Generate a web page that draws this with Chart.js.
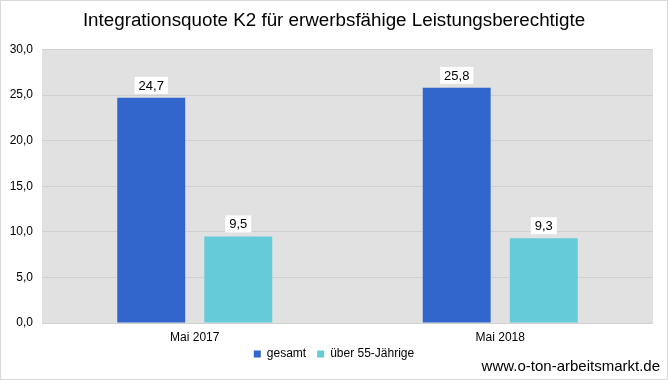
<!DOCTYPE html>
<html>
<head>
<meta charset="utf-8">
<script src="https://cdn.jsdelivr.net/npm/chart.js@4"></script>
<style>
  html, body { margin: 0; padding: 0; background: #fff; }
  #wrap { width: 668px; height: 380px; position: relative; }
</style>
</head>
<body>
<div id="wrap"><canvas id="chart" width="668" height="380"></canvas></div>
<script>
const categories = ['Mai 2017', 'Mai 2018'];
const seriesNames = ['gesamt', 'über 55-Jährige'];
const gesamt = [24.7, 25.8];
const ueber55 = [9.5, 9.3];
const yTicks = [0, 5, 10, 15, 20, 25, 30];

const fmt = v => v.toFixed(1).replace('.', ',');
const font = size => ({ family: '"Liberation Sans", Arial, sans-serif', size: size, weight: 'normal' });

// Hintergrund der Zeichenfläche + Rahmen + Quelle
const decor = {
  id: 'decor',
  beforeDraw(chart) {
    const { ctx, chartArea: a } = chart;
    ctx.save();
    ctx.fillStyle = '#fff';
    ctx.fillRect(0, 0, chart.width, chart.height);
    ctx.fillStyle = '#e1e1e1';
    ctx.fillRect(a.left, a.top, a.right - a.left, a.bottom - a.top);
    ctx.restore();
  },
  afterDraw(chart) {
    const { ctx } = chart;
    ctx.save();
    ctx.strokeStyle = '#d9d9d9';
    ctx.lineWidth = 1;
    ctx.strokeRect(0.5, 0.5, chart.width - 1, chart.height - 1);
    ctx.fillStyle = '#000';
    ctx.font = '15px "Liberation Sans", Arial, sans-serif';
    ctx.textAlign = 'right';
    ctx.textBaseline = 'middle';
    ctx.fillText('www.o-ton-arbeitsmarkt.de', 660, 367);
    ctx.restore();
  }
};

// Werte über den Balken in weißen Kästchen
const valueLabels = {
  id: 'valueLabels',
  afterDatasetsDraw(chart) {
    const { ctx } = chart;
    ctx.save();
    ctx.font = '13px "Liberation Sans", Arial, sans-serif';
    ctx.textAlign = 'center';
    ctx.textBaseline = 'middle';
    chart.data.datasets.forEach((ds, i) => {
      chart.getDatasetMeta(i).data.forEach((bar, j) => {
        const txt = fmt(ds.data[j]);
        const w = ctx.measureText(txt).width + 8;
        const h = 17;
        const y = bar.y - 4 - h;
        ctx.fillStyle = '#fff';
        ctx.fillRect(bar.x - w / 2, y, w, h);
        ctx.fillStyle = '#000';
        ctx.fillText(txt, bar.x, y + h / 2 + 1);
      });
    });
    ctx.restore();
  }
};

// Achsenbeschriftung nicht auf die Achsenbox zuschneiden
const noLabelClip = scale => { scale._computeLabelArea = () => undefined; };

new Chart(document.getElementById('chart'), {
  type: 'bar',
  data: {
    labels: categories,
    datasets: [
      { label: seriesNames[0], data: gesamt, backgroundColor: '#3366cc' },
      { label: seriesNames[1], data: ueber55, backgroundColor: '#66cbd8' }
    ]
  },
  options: {
    responsive: false,
    animation: false,
    devicePixelRatio: 1,
    categoryPercentage: 0.57,
    barPercentage: 0.78,
    layout: { padding: { left: 15, right: 15, top: 0, bottom: 10 } },
    plugins: {
      title: {
        display: true,
        text: 'Integrationsquote K2 für erwerbsfähige Leistungsberechtigte',
        color: '#000',
        font: font(18.8),
        padding: { top: 10, bottom: 17 }
      },
      legend: {
        position: 'bottom',
        labels: {
          color: '#000',
          boxWidth: 7,
          boxHeight: 7,
          padding: 11,
          font: font(12)
        }
      },
      tooltip: { enabled: false }
    },
    scales: {
      x: {
        grid: { display: false, drawTicks: false },
        border: { display: false },
        afterFit(scale) { scale.height = 14; noLabelClip(scale); },
        ticks: { color: '#000', padding: 7, font: font(12) }
      },
      y: {
        min: 0,
        max: 30,
        afterBuildTicks(scale) {
          scale.ticks = yTicks.map(v => ({ value: v }));
        },
        afterFit(scale) { scale.width = 27; noLabelClip(scale); },
        grid: { color: '#d0d0d0', drawTicks: false },
        border: { display: false },
        ticks: {
          color: '#000',
          padding: 9,
          font: font(12),
          callback: v => fmt(v)
        }
      }
    }
  },
  plugins: [decor, valueLabels]
});
</script>
</body>
</html>
